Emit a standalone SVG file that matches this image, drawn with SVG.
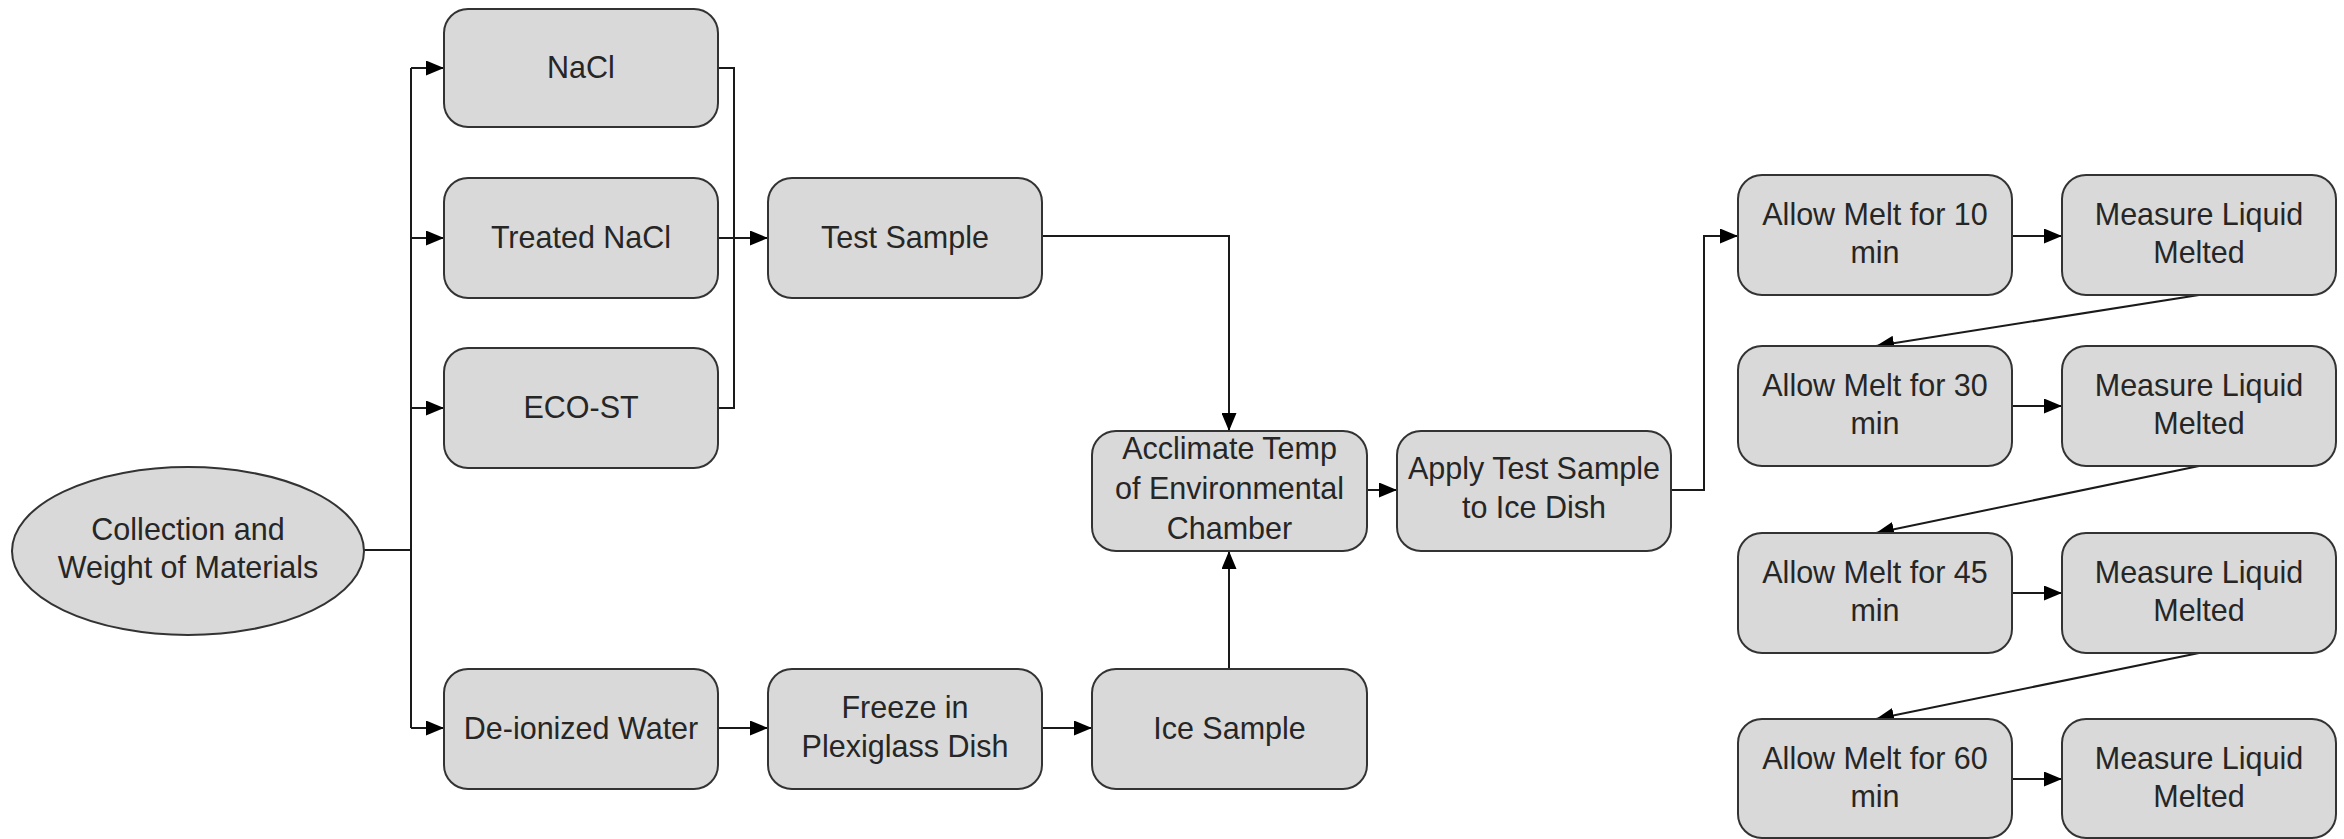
<svg xmlns="http://www.w3.org/2000/svg" width="2344" height="839" viewBox="0 0 2344 839">
<defs>
<style>
.box{fill:#d9d9d9;stroke:#333333;stroke-width:2}
.lbl{font-family:"Liberation Sans",Arial,sans-serif;font-size:30.5px;fill:#262626;text-anchor:middle}
.con{fill:none;stroke:#1a1a1a;stroke-width:2}
.arr{marker-end:url(#ah)}
</style>
<marker id="ah" markerUnits="userSpaceOnUse" markerWidth="18" markerHeight="15" refX="18" refY="7.5" orient="auto">
<path d="M0,0 L18,7.5 L0,15 z" fill="#000"/>
</marker>
</defs>
<rect width="2344" height="839" fill="#ffffff"/>

<g id="connectors">
<path class="con" d="M363,550 H411"/>
<path class="con" d="M411,68 V728"/>
<path class="con arr" d="M411,68 H444"/>
<path class="con arr" d="M411,238 H444"/>
<path class="con arr" d="M411,408 H444"/>
<path class="con arr" d="M411,728 H444"/>
<path class="con" d="M718,68 H734 V408 H718"/>
<path class="con arr" d="M718,238 H768"/>
<path class="con arr" d="M1042,236 H1229 V431"/>
<path class="con arr" d="M718,728 H768"/>
<path class="con arr" d="M1042,728 H1092"/>
<path class="con arr" d="M1229,669 V551"/>
<path class="con arr" d="M1367,490 H1397"/>
<path class="con arr" d="M1671,490 H1704 V236 H1738"/>
<path class="con arr" d="M2012,236 H2062"/>
<path class="con arr" d="M2012,406 H2062"/>
<path class="con arr" d="M2012,593 H2062"/>
<path class="con arr" d="M2012,779 H2062"/>
<path class="con arr" d="M2199,295 L1876,346"/>
<path class="con arr" d="M2199,466 L1876,533"/>
<path class="con arr" d="M2199,653 L1876,719"/>
</g>

<g id="n_collect">
<ellipse class="box" cx="188" cy="551" rx="176" ry="84"/>
<text class="lbl" x="188" y="540">Collection and</text>
<text class="lbl" x="188" y="578">Weight of Materials</text>
</g>

<g id="n_nacl">
<rect class="box" x="444" y="9" width="274" height="118" rx="24"/>
<text class="lbl" x="581" y="78">NaCl</text>
</g>
<g id="n_treated">
<rect class="box" x="444" y="178" width="274" height="120" rx="24"/>
<text class="lbl" x="581" y="248">Treated NaCl</text>
</g>
<g id="n_eco">
<rect class="box" x="444" y="348" width="274" height="120" rx="24"/>
<text class="lbl" x="581" y="418">ECO-ST</text>
</g>
<g id="n_diw">
<rect class="box" x="444" y="669" width="274" height="120" rx="24"/>
<text class="lbl" x="581" y="739">De-ionized Water</text>
</g>

<g id="n_test">
<rect class="box" x="768" y="178" width="274" height="120" rx="24"/>
<text class="lbl" x="905" y="248">Test Sample</text>
</g>
<g id="n_freeze">
<rect class="box" x="768" y="669" width="274" height="120" rx="24"/>
<text class="lbl" x="905" y="718">Freeze in</text>
<text class="lbl" x="905" y="757">Plexiglass Dish</text>
</g>

<g id="n_acclimate">
<rect class="box" x="1092" y="431" width="275" height="120" rx="24"/>
<text class="lbl" x="1229.5" y="459">Acclimate Temp</text>
<text class="lbl" x="1229.5" y="499">of Environmental</text>
<text class="lbl" x="1229.5" y="539">Chamber</text>
</g>
<g id="n_ice">
<rect class="box" x="1092" y="669" width="275" height="120" rx="24"/>
<text class="lbl" x="1229.5" y="739">Ice Sample</text>
</g>

<g id="n_apply">
<rect class="box" x="1397" y="431" width="274" height="120" rx="24"/>
<text class="lbl" x="1534" y="479">Apply Test Sample</text>
<text class="lbl" x="1534" y="518">to Ice Dish</text>
</g>

<g id="n_allow10">
<rect class="box" x="1738" y="175" width="274" height="120" rx="24"/>
<text class="lbl" x="1875" y="225">Allow Melt for 10</text>
<text class="lbl" x="1875" y="263">min</text>
</g>
<g id="n_measure10">
<rect class="box" x="2062" y="175" width="274" height="120" rx="24"/>
<text class="lbl" x="2199" y="225">Measure Liquid</text>
<text class="lbl" x="2199" y="263">Melted</text>
</g>

<g id="n_allow30">
<rect class="box" x="1738" y="346" width="274" height="120" rx="24"/>
<text class="lbl" x="1875" y="396">Allow Melt for 30</text>
<text class="lbl" x="1875" y="434">min</text>
</g>
<g id="n_measure30">
<rect class="box" x="2062" y="346" width="274" height="120" rx="24"/>
<text class="lbl" x="2199" y="396">Measure Liquid</text>
<text class="lbl" x="2199" y="434">Melted</text>
</g>

<g id="n_allow45">
<rect class="box" x="1738" y="533" width="274" height="120" rx="24"/>
<text class="lbl" x="1875" y="583">Allow Melt for 45</text>
<text class="lbl" x="1875" y="621">min</text>
</g>
<g id="n_measure45">
<rect class="box" x="2062" y="533" width="274" height="120" rx="24"/>
<text class="lbl" x="2199" y="583">Measure Liquid</text>
<text class="lbl" x="2199" y="621">Melted</text>
</g>

<g id="n_allow60">
<rect class="box" x="1738" y="719" width="274" height="119" rx="24"/>
<text class="lbl" x="1875" y="769">Allow Melt for 60</text>
<text class="lbl" x="1875" y="807">min</text>
</g>
<g id="n_measure60">
<rect class="box" x="2062" y="719" width="274" height="119" rx="24"/>
<text class="lbl" x="2199" y="769">Measure Liquid</text>
<text class="lbl" x="2199" y="807">Melted</text>
</g>
</svg>
